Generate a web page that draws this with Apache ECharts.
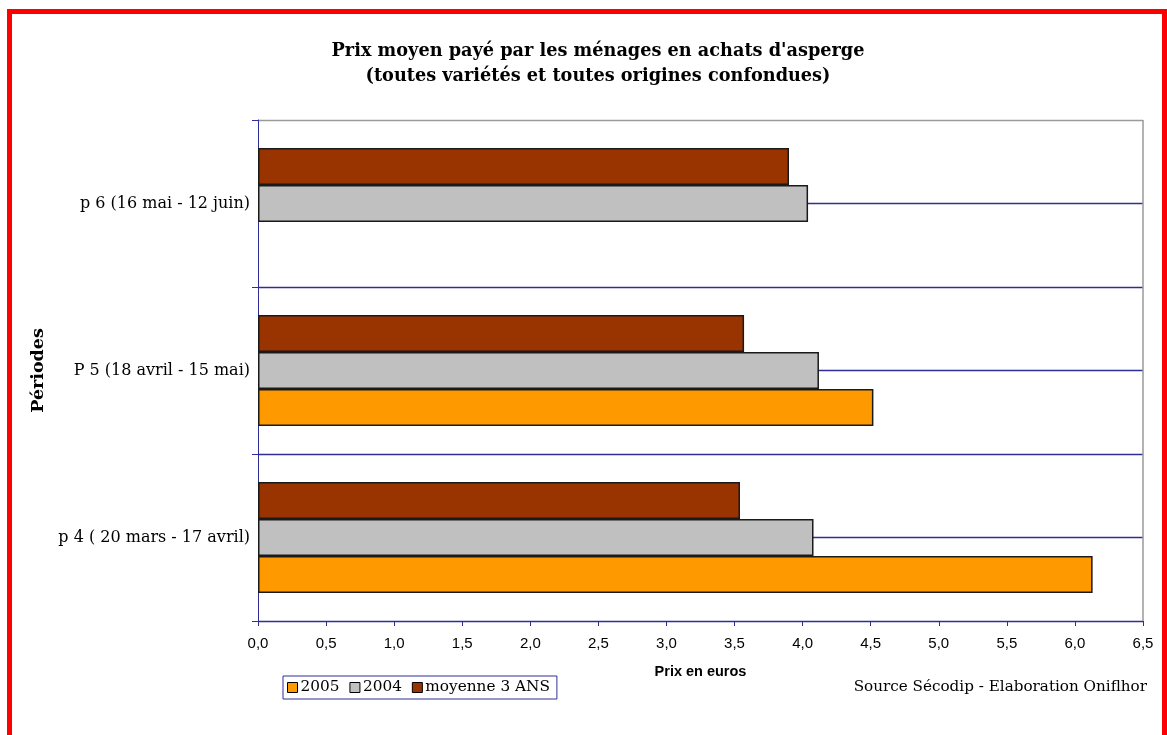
<!DOCTYPE html>
<html>
<head>
<meta charset="utf-8">
<script src="https://cdn.jsdelivr.net/npm/echarts@6/dist/echarts.min.js"></script>
<style>
  html, body { margin: 0; padding: 0; background: #fff; }
  #wrap { position: relative; width: 1167px; height: 735px; overflow: hidden; }
  #chart { position: absolute; left: 0; top: 0; width: 1167px; height: 735px; }
  #frame {
    position: absolute; left: 7px; top: 9px; width: 1150px; height: 760px;
    border: 5px solid #ff0000; pointer-events: none;
  }
</style>
</head>
<body>
<div id="wrap">
  <div id="chart"></div>
  <div id="frame"></div>
</div>
<script>
// Periods (bottom to top on the category axis)
const periods = ['p 4 ( 20 mars - 17 avril)', 'P 5 (18 avril - 15 mai)', 'p 6 (16 mai - 12 juin)'];
// Average price paid, euros
const prix2005 = [6.13, 4.52, null];
const prix2004 = [4.08, 4.12, 4.04];
const moyenne3Ans = [3.54, 3.57, 3.90];
const seriesNames = ['2005', '2004', 'moyenne 3 ANS'];
const seriesColors = ['#ff9900', '#c0c0c0', '#993300'];

const navy = '#2e2e96';
const serif = 'DejaVu Serif';
const sans = 'Liberation Sans';

const chart = echarts.init(document.getElementById('chart'), null, { renderer: 'canvas' });

// Horizontal grid lines at every half category; the top one doubles as the gray frame edge
const hLineColors = [navy, navy, navy, navy, navy, navy, '#9a9a9a'];
// Only the right frame edge is drawn among the vertical lines
const vLineColors = new Array(13).fill('rgba(0,0,0,0)').concat(['#9a9a9a']);

const barStyle = (c) => ({ color: c, borderColor: '#1a1a1a', borderWidth: 1.5 });
const barCommon = { type: 'bar', yAxisIndex: 0, barGap: '0%', barCategoryGap: '33.5%' };

chart.setOption({
  animation: false,
  backgroundColor: '#ffffff',
  title: [
    {
      text: "Prix moyen payé par les ménages en achats d'asperge\n(toutes variétés et toutes origines confondues)",
      left: 593, top: 34, textAlign: 'center',
      textStyle: { fontFamily: serif, fontWeight: 'bold', fontSize: 17.7, lineHeight: 25, color: '#000' }
    },
    {
      text: 'Source Sécodip - Elaboration Oniflhor',
      right: 15, top: 675,
      textStyle: { fontFamily: serif, fontWeight: 'normal', fontSize: 15.2, color: '#000' }
    }
  ],
  legend: {
    data: seriesNames,
    left: 283, top: 676,
    orient: 'horizontal',
    icon: 'rect',
    itemWidth: 10, itemHeight: 10, itemGap: 10,
    padding: [4, 7, 4, 4],
    borderColor: navy, borderWidth: 1,
    textStyle: { fontFamily: serif, fontSize: 15.3, color: '#000', padding: [0, 0, 0, -2] },
    itemStyle: { borderColor: '#000', borderWidth: 1 }
  },
  grid: { left: 258, right: 24, top: 120, bottom: 114, containLabel: false },
  xAxis: {
    type: 'value', min: 0, max: 6.5, interval: 0.5,
    name: 'Prix en euros', nameLocation: 'middle', nameGap: 43,
    nameTextStyle: { fontFamily: sans, fontWeight: 'bold', fontSize: 14.5, color: '#000' },
    axisLine: { show: true, lineStyle: { color: navy, width: 1 } },
    axisTick: { show: true, length: 5, lineStyle: { color: navy } },
    axisLabel: {
      fontFamily: sans, fontSize: 15, color: '#000', margin: 15,
      formatter: (v) => v.toFixed(1).replace('.', ',')
    },
    splitLine: { show: true, lineStyle: { color: vLineColors, width: 1.5 } }
  },
  yAxis: [
    {
      type: 'category', data: periods,
      name: 'Périodes', nameLocation: 'middle', nameGap: 207, nameRotate: 90,
      nameTextStyle: { fontFamily: serif, fontWeight: 'bold', fontSize: 17.5, color: '#000' },
      axisLine: { show: true, lineStyle: { color: navy, width: 1 } },
      axisTick: { show: true, length: 6, alignWithLabel: false, lineStyle: { color: navy } },
      axisLabel: { fontFamily: serif, fontSize: 16, color: '#000', margin: 8 },
      splitLine: { show: false }
    },
    {
      type: 'value', min: 0, max: 3, interval: 0.5, position: 'right',
      axisLine: { show: false }, axisTick: { show: false }, axisLabel: { show: false },
      splitLine: { show: true, lineStyle: { color: hLineColors, width: 1.3 } }
    }
  ],
  // Drawn top-down within each period: 3-year average, 2004, 2005
  series: [
    Object.assign({ name: seriesNames[2], data: moyenne3Ans, itemStyle: barStyle(seriesColors[2]) }, barCommon),
    Object.assign({ name: seriesNames[1], data: prix2004, itemStyle: barStyle(seriesColors[1]) }, barCommon),
    Object.assign({ name: seriesNames[0], data: prix2005, itemStyle: barStyle(seriesColors[0]) }, barCommon)
  ]
});
</script>
</body>
</html>
